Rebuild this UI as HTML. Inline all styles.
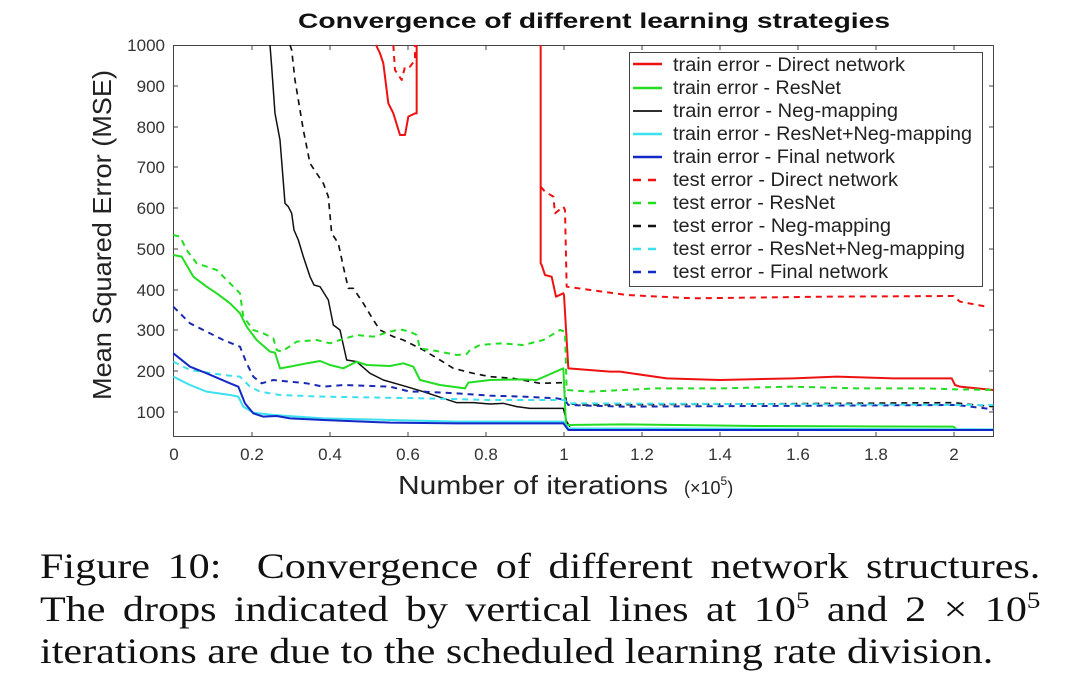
<!DOCTYPE html>
<html><head><meta charset="utf-8"><style>
body{margin:0;width:1080px;height:699px;background:#fff;overflow:hidden;position:relative}
.capbox{position:absolute;left:40px;top:0;width:855px;transform:scaleX(1.17);transform-origin:0 0}
.cap{position:absolute;left:0;width:855px;font-family:"Liberation Serif",serif;font-size:36px;line-height:1;color:#111;white-space:nowrap}
.j{text-align:justify;text-align-last:justify}
sup{font-size:23px;line-height:0}
</style></head><body>
<svg width="1080" height="540" style="position:absolute;left:0;top:0" font-family="Liberation Sans, sans-serif">
<text x="298" y="28" textLength="592" lengthAdjust="spacingAndGlyphs" font-size="21" font-weight="bold" fill="#111">Convergence of different learning strategies</text>
<g stroke="#444" stroke-width="1">
<rect x="173.5" y="45.5" width="820" height="391" fill="#fff"/>
<path d="M252,437v-5M330,437v-5M408,437v-5M486,437v-5M564,437v-5M642,437v-5M720,437v-5M798,437v-5M876,437v-5M954,437v-5M252,45v5M330,45v5M408,45v5M486,45v5M564,45v5M642,45v5M720,45v5M798,45v5M876,45v5M954,45v5
M173,86h5M173,127h5M173,167h5M173,208h5M173,249h5M173,290h5M173,330h5M173,371h5M173,412h5M994,86h-5M994,127h-5M994,167h-5M994,208h-5M994,249h-5M994,290h-5M994,330h-5M994,371h-5M994,412h-5"/>
</g>
<g font-size="17" fill="#333" text-anchor="end">
<text x="165" y="51">1000</text><text x="165" y="92">900</text><text x="165" y="133">800</text><text x="165" y="173">700</text><text x="165" y="214">600</text><text x="165" y="255">500</text><text x="165" y="296">400</text><text x="165" y="336">300</text><text x="165" y="377">200</text><text x="165" y="418">100</text>
</g>
<g font-size="17" fill="#333" text-anchor="middle">
<text x="174" y="460">0</text><text x="252" y="460">0.2</text><text x="330" y="460">0.4</text><text x="408" y="460">0.6</text><text x="486" y="460">0.8</text><text x="564" y="460">1</text><text x="642" y="460">1.2</text><text x="720" y="460">1.4</text><text x="798" y="460">1.6</text><text x="876" y="460">1.8</text><text x="954" y="460">2</text>
</g>
<text transform="translate(111,235) rotate(-90)" text-anchor="middle" font-size="26" textLength="330" lengthAdjust="spacingAndGlyphs" fill="#222">Mean Squared Error (MSE)</text>
<text x="398" y="494" font-size="26" textLength="270" lengthAdjust="spacingAndGlyphs" fill="#222">Number of iterations</text>
<text x="684" y="494" font-size="18" fill="#222">(×10<tspan font-size="12" dy="-9">5</tspan><tspan dy="9">)</tspan></text>
<g transform="translate(90,30) scale(0.33333)" fill="none" stroke-linejoin="round">
<path stroke="#e11" stroke-width="6" d="M858,45 870,70 880,100 895,220 910,250 930,315 945,315 955,260 975,250 980,250 980,45"/>
<path stroke="#e11" stroke-width="6" d="M1352,45 1352,700 1355,705 1365,735 1385,740 1398,800 1420,790 1422,795 1435,1015 1560,1025 1590,1025 1730,1045 1890,1050 2110,1045 2240,1040 2410,1045 2585,1045 2595,1065 2610,1070 2710,1080"/>
<path stroke="#e11" stroke-width="6" stroke-dasharray="18 15" d="M910,45 915,120 935,150 945,110 960,110 975,90 975,45"/>
<path stroke="#e11" stroke-width="6" stroke-dasharray="18 15" d="M1352,470 1365,485 1390,500 1395,550 1420,530 1425,540 1430,770 1610,795 1810,805 2210,800 2590,798 2610,815 2690,830"/>
<path stroke="#111" stroke-width="4.5" d="M540,45 545,110 555,250 570,330 585,520 595,530 605,550 612,600 625,630 640,680 660,740 672,765 690,770 715,810 730,885 750,900 770,990 800,995 840,1030 880,1050 950,1070 1000,1085 1060,1105 1100,1118 1150,1118 1200,1122 1240,1120 1280,1130 1320,1135 1420,1135 1430,1175 1440,1190"/>
<path stroke="#111" stroke-width="5" stroke-dasharray="18 15" d="M600,45 605,60 615,150 640,300 660,400 700,460 715,500 725,610 745,640 760,710 775,775 790,775 820,820 850,870 870,900 910,920 940,930 970,945 1000,960 1050,990 1090,1015 1150,1030 1200,1040 1270,1045 1350,1060 1420,1058 1430,1120 1470,1125 2590,1118 2710,1130"/>
<path stroke="#2d2" stroke-width="6" stroke-dasharray="18 15" d="M250,615 270,620 290,660 320,700 380,720 420,760 450,790 460,860 490,900 520,910 550,925 560,960 575,965 620,935 680,930 720,940 750,930 800,915 850,920 900,905 930,898 960,905 980,915 990,955 1050,965 1100,975 1130,972 1140,960 1170,945 1230,940 1300,945 1360,930 1410,900 1425,905 1430,1080 1500,1085 1600,1080 1700,1075 1900,1075 2100,1070 2300,1075 2500,1075 2600,1078 2710,1080"/>
<path stroke="#2d2" stroke-width="6" d="M250,675 275,680 310,740 350,770 380,790 420,820 450,850 470,890 500,930 540,965 555,968 570,1015 600,1010 650,1000 690,993 720,1005 760,1015 800,995 830,1005 900,1008 940,1000 970,1010 990,1050 1050,1065 1125,1075 1135,1058 1200,1050 1300,1048 1340,1050 1420,1015 1428,1185 1600,1183 2000,1188 2590,1190 2600,1198 2710,1200"/>
<path stroke="#1a2ab0" stroke-width="6" stroke-dasharray="18 15" d="M250,830 300,880 350,905 400,930 450,950 470,1000 490,1040 515,1060 550,1050 650,1060 700,1070 760,1065 900,1070 960,1085 1000,1085 1100,1090 1200,1097 1300,1100 1400,1105 1425,1110 1435,1125 1600,1130 2000,1128 2600,1125 2710,1138"/>
<path stroke="#3de0ee" stroke-width="6" stroke-dasharray="18 15" d="M250,995 300,1020 400,1035 450,1040 480,1070 510,1085 570,1095 700,1100 1000,1105 1200,1110 1425,1110 1430,1120 2710,1125"/>
<path stroke="#3de0ee" stroke-width="6" d="M250,1040 300,1065 350,1085 420,1095 445,1100 460,1130 490,1148 550,1155 700,1165 900,1170 1100,1175 1420,1175 1435,1195 2710,1198"/>
<path stroke="#1428c8" stroke-width="6" d="M250,970 300,1010 350,1030 420,1060 445,1070 465,1120 490,1150 520,1160 560,1158 600,1165 700,1170 900,1178 1100,1180 1420,1180 1435,1200 2710,1200"/>
</g>
<rect x="629.5" y="52.5" width="353" height="234" fill="#fff" stroke="#444"/>
<g stroke-width="2.5">
<line x1="633" y1="64" x2="662" y2="64" stroke="#e11"/>
<line x1="633" y1="88" x2="662" y2="88" stroke="#2d2"/>
<line x1="633" y1="111" x2="662" y2="111" stroke="#111" stroke-width="1.8"/>
<line x1="633" y1="134" x2="662" y2="134" stroke="#3de0ee"/>
<line x1="633" y1="157" x2="662" y2="157" stroke="#1428c8"/>
<line x1="633" y1="180" x2="662" y2="180" stroke="#e11" stroke-dasharray="8 7"/>
<line x1="633" y1="203" x2="662" y2="203" stroke="#2d2" stroke-dasharray="8 7"/>
<line x1="633" y1="226" x2="662" y2="226" stroke="#111" stroke-dasharray="8 7"/>
<line x1="633" y1="249" x2="662" y2="249" stroke="#3de0ee" stroke-dasharray="8 7"/>
<line x1="633" y1="272" x2="662" y2="272" stroke="#1428c8" stroke-dasharray="8 7"/>
</g>
<g font-size="19" fill="#222">
<text x="673" y="71" textLength="232" lengthAdjust="spacingAndGlyphs">train error - Direct network</text>
<text x="673" y="94" textLength="168" lengthAdjust="spacingAndGlyphs">train error - ResNet</text>
<text x="673" y="117" textLength="225" lengthAdjust="spacingAndGlyphs">train error - Neg-mapping</text>
<text x="673" y="140" textLength="299" lengthAdjust="spacingAndGlyphs">train error - ResNet+Neg-mapping</text>
<text x="673" y="163" textLength="222" lengthAdjust="spacingAndGlyphs">train error - Final network</text>
<text x="673" y="186" textLength="225" lengthAdjust="spacingAndGlyphs">test error - Direct network</text>
<text x="673" y="209" textLength="162" lengthAdjust="spacingAndGlyphs">test error - ResNet</text>
<text x="673" y="232" textLength="218" lengthAdjust="spacingAndGlyphs">test error - Neg-mapping</text>
<text x="673" y="255" textLength="292" lengthAdjust="spacingAndGlyphs">test error - ResNet+Neg-mapping</text>
<text x="673" y="278" textLength="215" lengthAdjust="spacingAndGlyphs">test error - Final network</text>
</g>
</svg>
<div class="capbox">
<div class="cap j" style="top:548px">Figure 10:&nbsp; Convergence of different network structures.</div>
<div class="cap j" style="top:591px">The drops indicated by vertical lines at 10<sup>5</sup> and 2 × 10<sup>5</sup></div>
<div class="cap" style="top:633px">iterations are due to the scheduled learning rate division.</div>
</div>
</body></html>
